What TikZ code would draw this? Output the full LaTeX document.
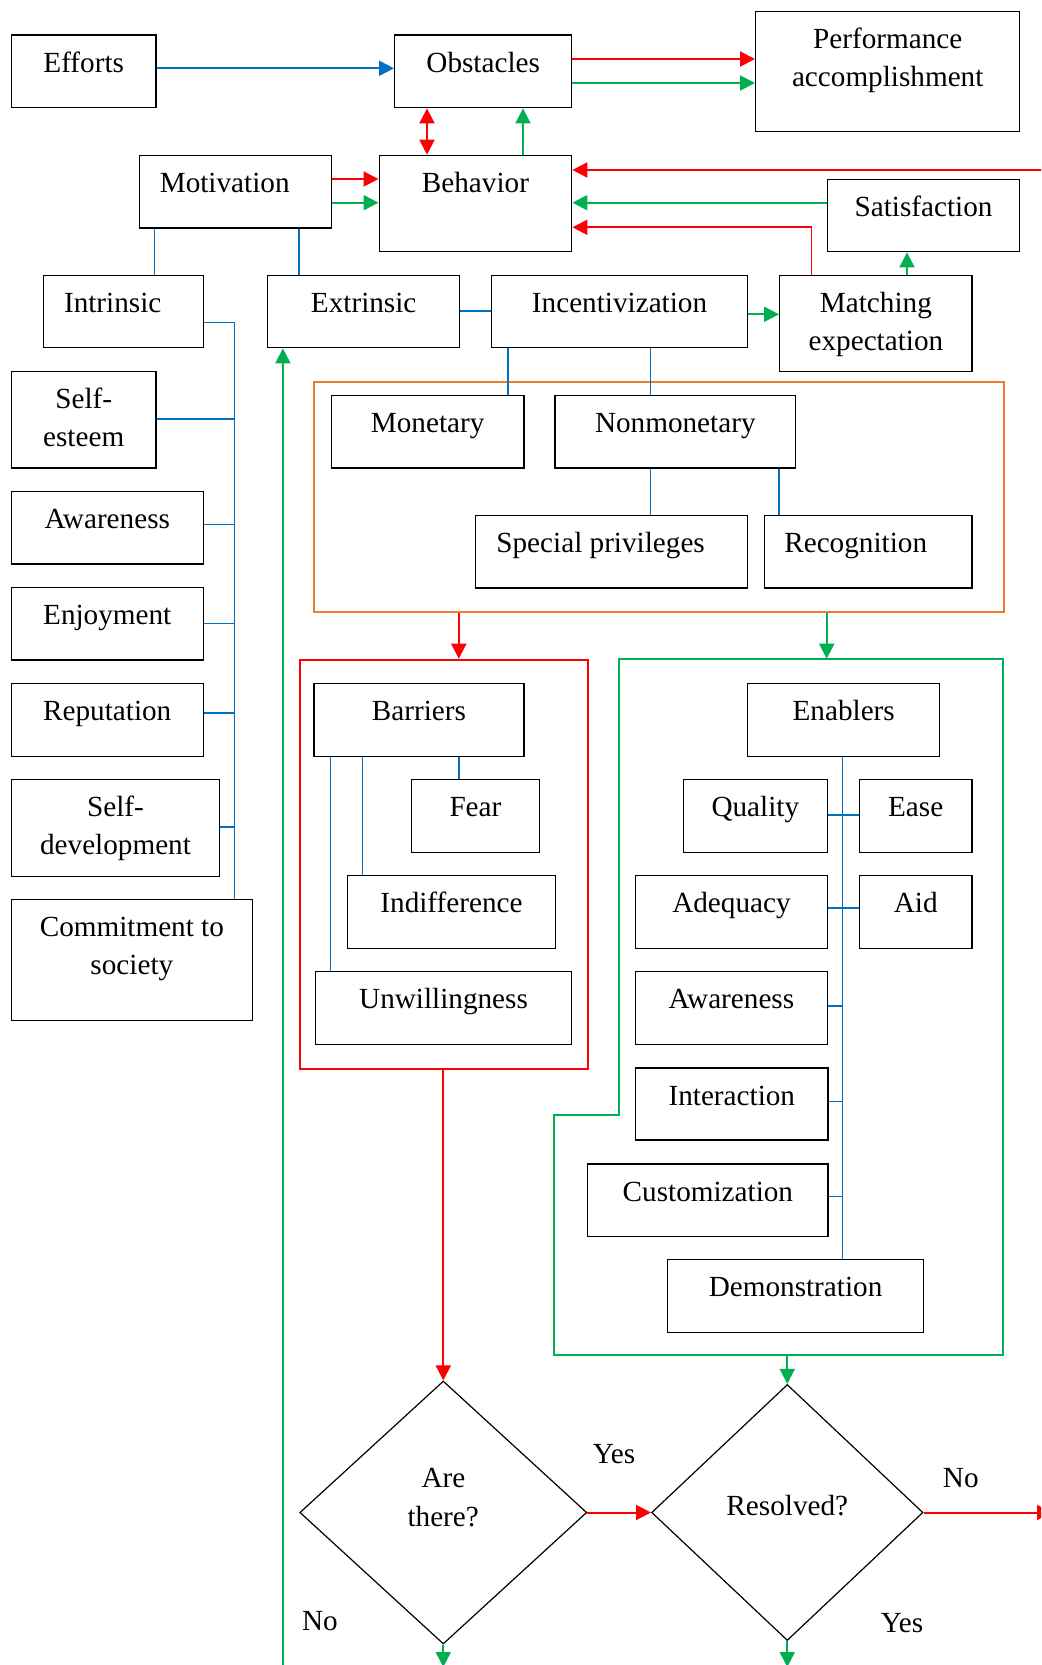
\documentclass[tikz,border=0pt]{standalone}
\usepackage{fontspec}
\setmainfont{Liberation Serif}
\usetikzlibrary{arrows.meta,shapes.geometric}

\definecolor{cred}{RGB}{255,0,0}
\definecolor{cgreen}{RGB}{0,176,80}
\definecolor{cblue}{RGB}{0,112,192}
\definecolor{corange}{RGB}{237,125,49}

\tikzset{
  bx/.style={draw=black, line width=0.7pt, inner sep=0pt},
  tx/.style={inner sep=0pt, align=center, anchor=north, font=\fontsize{14.6pt}{19pt}\selectfont},
  lbl/.style={inner sep=0pt, anchor=base, font=\fontsize{14.6pt}{19pt}\selectfont},
  tip/.style={-{Triangle[length=7.5pt,width=7.5pt]}},
  rarr/.style={draw=cred, line width=1pt, tip},
  garr/.style={draw=cgreen, line width=1pt, tip},
  rdbl/.style={draw=cred, line width=1pt, {Triangle[length=7.5pt,width=7.5pt]}-{Triangle[length=7.5pt,width=7.5pt]}},
  bline/.style={draw=cblue, line width=0.75pt},
  grp/.style={line width=1pt, inner sep=0pt},
  dia/.style={diamond, draw=black, line width=0.6pt, inner sep=0pt},
}

% box: name, left, top, right, bottom (px), text x-offset (px), text
\newcommand\mkbox[7]{%
  \node[bx, minimum width={(#4-#2)*0.5pt}, minimum height={(#5-#3)*0.5pt}, anchor=north west] (#1) at (#2,#3) {};
  \node[tx] (#1-t) at ([xshift={#6*0.5pt}, yshift=-6.75pt]#1.north) {\rule{0pt}{12pt}#7};
}

\begin{document}
\begin{tikzpicture}[x=0.5pt, y=-0.5pt]
\clip (0,0) rectangle (1041,1665);
\fill[white] (0,0) rectangle (1041,1665);

% group frames
\node[grp, draw=corange, minimum width={689.6*0.5pt}, minimum height={229.6*0.5pt}, anchor=north west] (ogrp) at (313.4,381.4) {};
\node[grp, draw=cred, minimum width={288.2*0.5pt}, minimum height={409*0.5pt}, anchor=north west] (rgrp) at (298.8,658.7) {};
\draw[draw=cgreen, line width=1pt] (618.9,658.7) -- (1002.7,658.7) -- (1002.7,1355) -- (554.4,1355) -- (554.4,1115.3) -- (618.9,1115.3) -- cycle;
\coordinate (ggrp-top) at (826.7,658.7);
\coordinate (ggrp-bot) at (786.2,1355);

% top row
\mkbox{efforts}{10.6}{34.3}{155.4}{107}{0}{Efforts}
\mkbox{obstacles}{394}{34.3}{571}{107}{0}{Obstacles}
\mkbox{perf}{755}{10.7}{1019}{131}{0}{Performance\\accomplishment}
\mkbox{motivation}{139}{154.7}{331}{227.3}{-11}{Motivation}
\mkbox{behavior}{378.5}{154.7}{571}{250.7}{0}{Behavior}
\mkbox{satisfaction}{826.7}{178.7}{1019}{251}{0}{Satisfaction}
\mkbox{intrinsic}{42.5}{274.7}{202.5}{347}{-10.5}{Intrinsic}
\mkbox{extrinsic}{267}{274.7}{459}{347}{0}{Extrinsic}
\mkbox{incent}{490.7}{274.7}{747}{347}{0}{Incentivization}
\mkbox{matching}{779}{274.7}{971.4}{371}{0}{Matching\\expectation}

% intrinsic motives
\mkbox{selfest}{10.6}{370.7}{155.4}{467.3}{0}{Self-\\esteem}
\mkbox{aware1}{10.6}{491}{202.5}{563.3}{0}{Awareness}
\mkbox{enjoy}{10.6}{587}{202.5}{659.3}{0}{Enjoyment}
\mkbox{reput}{10.6}{683}{202.5}{755.7}{0}{Reputation}
\mkbox{selfdev}{10.6}{779}{219}{875.7}{0}{Self-\\development}
\mkbox{commit}{10.6}{899}{251.7}{1019.7}{0}{Commitment to\\society}

% incentives
\mkbox{monetary}{330.7}{394.7}{523.2}{467.3}{0}{Monetary}
\mkbox{nonmon}{554.4}{394.7}{794.8}{467.3}{0}{Nonmonetary}
\mkbox{special}{474.8}{514.7}{747}{587.3}{-11}{Special privileges}
\mkbox{recog}{763.6}{514.7}{971.4}{587.3}{-12.5}{Recognition}

% barriers
\mkbox{barriers}{313.4}{683}{523.2}{755.7}{0}{Barriers}
\mkbox{fear}{411}{779}{538.5}{851.7}{0}{Fear}
\mkbox{indiff}{346.6}{875}{555}{947.7}{0}{Indifference}
\mkbox{unwill}{314.7}{971}{571}{1043.7}{0}{Unwillingness}

% enablers
\mkbox{enablers}{747}{683}{939}{755.7}{0}{Enablers}
\mkbox{quality}{682.6}{779}{826.7}{851.7}{0}{Quality}
\mkbox{ease}{858.6}{779}{971.4}{851.7}{0}{Ease}
\mkbox{adequacy}{634.8}{875}{826.7}{947.7}{0}{Adequacy}
\mkbox{aid}{858.6}{875}{971.4}{947.7}{0}{Aid}
\mkbox{aware2}{634.8}{971}{826.7}{1043.7}{0}{Awareness}
\mkbox{interact}{634.8}{1067.3}{827.4}{1139.3}{0}{Interaction}
\mkbox{custom}{587}{1163.3}{827.4}{1235.7}{0}{Customization}
\mkbox{demo}{666.7}{1259}{923}{1331.7}{0}{Demonstration}

% decisions
\node[dia, minimum width={287*0.5pt}, minimum height={263*0.5pt}] (q1) at (443.3,1512.5) {};
\node[dia, minimum width={271.4*0.5pt}, minimum height={256*0.5pt}] (q2) at (787.3,1512.5) {};
\node[lbl] (q1-a) at (443.5,1487.3) {Are};
\node[lbl] (q1-b) at (443.2,1526) {there?};
\node[lbl] (q2-t) at (787.3,1515) {Resolved?};
\node[lbl] (yes1) at (614,1463.3) {Yes};
\node[lbl] (no1) at (960.8,1487.3) {No};
\node[lbl] (no2) at (320,1630.7) {No};
\node[lbl] (yes2) at (902,1632) {Yes};

% blue links
\draw[draw=cblue, line width=1pt, tip] (efforts.east |- 0,68.3) -- (obstacles.west |- 0,68.3);
\draw[bline] (motivation.south -| 154.7,0) -- (intrinsic.north -| 154.7,0);
\draw[bline] (motivation.south -| 298.8,0) -- (extrinsic.north -| 298.8,0);
\draw[bline, line width=1pt] (extrinsic.east |- 0,311) -- (incent.west |- 0,311);
\draw[bline] (incent.south -| 508,0) -- (monetary.north -| 508,0);
\draw[bline] (incent.south -| 650.7,0) -- (nonmon.north -| 650.7,0);
\draw[bline] (nonmon.south -| 650.7,0) -- (special.north -| 650.7,0);
\draw[bline] (nonmon.south -| 779,0) -- (recog.north -| 779,0);

\coordinate (ibus) at (234.4,322.7);
\draw[bline] (intrinsic.east |- ibus) -| (commit.north -| ibus);
\draw[bline] (selfest.east |- 0,419) -- (ibus |- 0,419);
\draw[bline] (aware1.east |- 0,524.7) -- (ibus |- 0,524.7);
\draw[bline] (enjoy.east |- 0,623.3) -- (ibus |- 0,623.3);
\draw[bline] (reput.east |- 0,713) -- (ibus |- 0,713);
\draw[bline] (selfdev.east |- 0,827) -- (ibus |- 0,827);

\draw[bline] (barriers.south -| 458.8,0) -- (fear.north -| 458.8,0);
\draw[bline] (barriers.south -| 362.5,0) -- (indiff.north -| 362.5,0);
\draw[bline] (barriers.south -| 330.7,0) -- (unwill.north -| 330.7,0);

\coordinate (ebus) at (842.6,755.7);
\draw[bline] (enablers.south -| ebus) -- (demo.north -| ebus);
\draw[bline, line width=1pt] (quality.east |- 0,815) -- (ease.west |- 0,815);
\draw[bline, line width=1pt] (adequacy.east |- 0,907.7) -- (aid.west |- 0,907.7);
\draw[bline] (aware2.east |- 0,1006) -- (ebus |- 0,1006);
\draw[bline] (interact.east |- 0,1101.7) -- (ebus |- 0,1101.7);
\draw[bline] (custom.east |- 0,1196.7) -- (ebus |- 0,1196.7);

% red and green flows
\draw[rarr] (obstacles.east |- 0,59) -- (perf.west |- 0,59);
\draw[garr] (obstacles.east |- 0,83) -- (perf.west |- 0,83);
\draw[rdbl] (obstacles.south -| 427,0) -- (behavior.north -| 427,0);
\draw[garr] (behavior.north -| 523,0) -- (obstacles.south -| 523,0);
\draw[rarr] (motivation.east |- 0,179) -- (behavior.west |- 0,179);
\draw[garr] (motivation.east |- 0,202.7) -- (behavior.west |- 0,202.7);
\coordinate (loopin) at (1045,170);
\draw[rarr] (loopin) -- (behavior.east |- loopin);
\draw[garr] (satisfaction.west |- 0,202.7) -- (behavior.east |- 0,202.7);
\draw[rarr, line width=0.9pt] (matching.north -| 811.4,0) |- (behavior.east |- 0,227.3);
\draw[garr] (incent.east |- 0,314.3) -- (matching.west |- 0,314.3);
\draw[garr] (matching.north -| 907,0) -- (satisfaction.south -| 907,0);

\draw[rarr] (ogrp.south -| 458.8,0) -- (rgrp.north -| 458.8,0);
\draw[garr] (ogrp.south -| ggrp-top) -- (ggrp-top);
\draw[rarr] (rgrp.south -| q1.north) -- (q1.north);
\draw[garr] (ggrp-bot) -- (ggrp-bot -| q2.north) -- (q2.north);
\draw[rarr] (q1.east) -- (q2.west);
\coordinate (exitR) at (1052,1512.5);
\draw[rarr] (q2.east) -- (exitR);
\coordinate (exitD1) at (443.3,1667);
\draw[garr] (q1.south) -- (exitD1);
\coordinate (exitD2) at (787.3,1667);
\draw[garr] (q2.south) -- (exitD2);
\coordinate (loopD) at (282.9,1670);
\draw[garr] (loopD) -- (extrinsic.south -| loopD);
\end{tikzpicture}
\end{document}
